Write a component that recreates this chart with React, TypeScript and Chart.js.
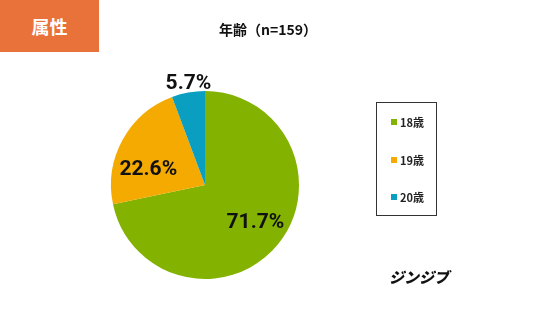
import React, { useEffect, useRef } from "react";
import { Chart, registerables } from "chart.js";

Chart.register(...registerables);

const categories = ["18歳", "19歳", "20歳"];
const values = [71.7, 22.6, 5.7];
const valueLabels = ["71.7%", "22.6%", "5.7%"];
const colors = ["#83B200", "#F4AA00", "#0A9FC1"];
const titleText = "年齢（n=159）";
const badgeText = "属性";
const logoText = "ジンジブ";

const FONT = '"Noto Sans CJK JP", "Noto Sans", sans-serif';

// per-slice label placement tweaks (radius factor, angle offset in rad)
const labelPlace = [
  { r: 0.66, a: -0.06 },
  { r: 0.63, a: -0.21 },
  { r: 1.11, a: 0.02 },
];

const labelPlugin = {
  id: "sliceLabels",
  afterDatasetsDraw(chart: any) {
    const ctx = chart.ctx;
    const meta = chart.getDatasetMeta(0);
    ctx.save();
    ctx.font = `bold 21px Roboto, ${FONT}`;
    ctx.fillStyle = "#111";
    ctx.textAlign = "center";
    ctx.textBaseline = "middle";
    meta.data.forEach((arc: any, i: number) => {
      const p = arc.getProps(["x", "y", "startAngle", "endAngle", "outerRadius"], true);
      const mid = (p.startAngle + p.endAngle) / 2 + labelPlace[i].a;
      const r = p.outerRadius * labelPlace[i].r;
      const x = p.x + Math.cos(mid) * r;
      const y = p.y + Math.sin(mid) * r;
      ctx.fillText(valueLabels[i], x, y + 2);
    });
    ctx.restore();
  },
};

export default function App() {
  const ref = useRef<HTMLCanvasElement>(null);

  useEffect(() => {
    document.body.style.margin = "0";
    const chart = new Chart(ref.current!, {
      type: "pie",
      data: {
        labels: categories,
        datasets: [
          {
            data: values,
            backgroundColor: colors,
            borderWidth: 0,
          },
        ],
      },
      options: {
        animation: false,
        responsive: false,
        events: [],
        layout: { padding: { left: 111, right: 237, top: 91, bottom: 45 } },
        plugins: {
          legend: { display: false },
          title: { display: false },
          tooltip: { enabled: false },
        },
      },
      plugins: [labelPlugin],
    });
    return () => chart.destroy();
  }, []);

  return (
    <div style={{ position: "relative", width: 536, height: 324, background: "#fff", fontFamily: FONT, overflow: "hidden" }}>
      <canvas ref={ref} width={536} height={324} style={{ position: "absolute", left: 0, top: 0 }} />
      <div
        style={{
          position: "absolute", left: 0, top: 0, width: 99, height: 52,
          background: "#E9713A", color: "#fff", fontWeight: 700, fontSize: 18,
          display: "flex", alignItems: "center", justifyContent: "center",
        }}
      >
        {badgeText}
      </div>
      <div
        style={{
          position: "absolute", left: 0, width: 536, top: 19, textAlign: "center",
          fontWeight: 700, fontSize: 14, color: "#111", lineHeight: "20px",
        }}
      >
        {titleText}
      </div>
      <div
        style={{
          position: "absolute", left: 376, top: 102, width: 61, height: 114,
          border: "1.5px solid #333", boxSizing: "border-box",
        }}
      >
        {categories.map((c, i) => (
          <div
            key={c}
            style={{
              position: "absolute", left: 14, top: 11 + i * 37.5, height: 16,
              display: "flex", alignItems: "center", fontSize: 11, fontWeight: 700, color: "#222",
            }}
          >
            <span style={{ display: "inline-block", width: 6, height: 6, background: colors[i], marginRight: 3 }} />
            {c}
          </div>
        ))}
      </div>
      <div
        style={{
          position: "absolute", left: 389, top: 267, fontSize: 15, fontWeight: 900,
          color: "#111", lineHeight: "20px", fontStyle: "italic", letterSpacing: 0,
        }}
      >
        {logoText}
      </div>
    </div>
  );
}
